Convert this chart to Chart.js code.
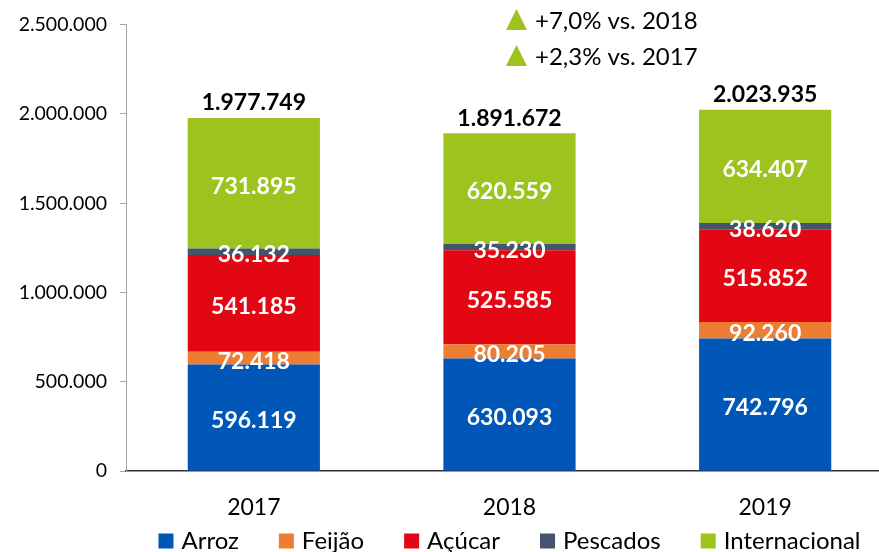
<!DOCTYPE html>
<html>
<head>
<meta charset="utf-8">
<script src="https://cdn.jsdelivr.net/npm/chart.js@4.4.1/dist/chart.umd.min.js"></script>
<style>
  html, body { margin: 0; padding: 0; overflow: hidden; background: #fff; }
  #wrap { width: 893px; height: 552px; position: relative; }
</style>
</head>
<body>
<div id="wrap"><canvas id="chart"></canvas></div>
<script>
// data
const years = ['2017', '2018', '2019'];
const arroz = [596119, 630093, 742796];
const feijao = [72418, 80205, 92260];
const acucar = [541185, 525585, 515852];
const pescados = [36132, 35230, 38620];
const internacional = [731895, 620559, 634407];
const yTicks = [0, 500000, 1000000, 1500000, 2000000, 2500000];
const notes = ['+7,0% vs. 2018', '+2,3% vs. 2017'];

const FONT = 'Lato, "Open Sans", sans-serif';
const green = '#9DC31E';

// 1234567 -> 1.234.567
const fmt = v => String(v).replace(/\B(?=(\d{3})+(?!\d))/g, '.');

// segment values, totals and the little notes at the top
const labelsPlugin = {
  id: 'labels',
  afterDatasetsDraw(chart) {
    const ctx = chart.ctx;
    ctx.save();
    ctx.textAlign = 'center';
    ctx.textBaseline = 'middle';
    ctx.font = 'bold 23px ' + FONT;
    ctx.fillStyle = '#fff';
    chart.data.datasets.forEach((ds, i) => {
      chart.getDatasetMeta(i).data.forEach((bar, j) => {
        ctx.fillText(fmt(ds.data[j]), bar.x, (bar.y + bar.base) / 2 + 3);
      });
    });
    // totals
    const last = chart.data.datasets.length - 1;
    ctx.fillStyle = '#000';
    chart.getDatasetMeta(last).data.forEach((bar, j) => {
      const total = chart.data.datasets.reduce((s, ds) => s + ds.data[j], 0);
      ctx.fillText(fmt(total), bar.x, bar.y - 15);
    });
    ctx.restore();
  },
  afterDraw(chart) {
    const ctx = chart.ctx;
    const area = chart.chartArea;
    ctx.save();
    // notes
    ctx.font = '24px ' + FONT;
    ctx.textAlign = 'left';
    ctx.textBaseline = 'middle';
    notes.forEach((t, i) => {
      const cy = 20 + i * 36;
      const x0 = 506;
      ctx.fillStyle = green;
      ctx.beginPath();
      ctx.moveTo(x0, cy + 10);
      ctx.lineTo(x0 + 21, cy + 10);
      ctx.lineTo(x0 + 10.5, cy - 11);
      ctx.closePath();
      ctx.fill();
      ctx.fillStyle = '#000';
      ctx.fillText(t, x0 + 29, cy + 1);
    });
    // legend
    const box = 15, gap = 8, space = 40;
    const items = chart.data.datasets.map(ds => ({ text: ds.label, color: ds.backgroundColor }));
    let total = 0;
    items.forEach((it, i) => {
      it.w = box + gap + ctx.measureText(it.text).width;
      total += it.w + (i ? space : 0);
    });
    let x = (area.left + area.right) / 2 - total / 2;
    const ly = 541;
    items.forEach(it => {
      ctx.fillStyle = it.color;
      ctx.fillRect(x, ly - box / 2, box, box);
      ctx.fillStyle = '#000';
      ctx.fillText(it.text, x + box + gap, ly);
      x += it.w + space;
    });
    ctx.restore();
  }
};

new Chart(document.getElementById('chart'), {
  type: 'bar',
  data: {
    labels: years,
    datasets: [
      { label: 'Arroz', data: arroz, backgroundColor: '#0057B8' },
      { label: 'Feijão', data: feijao, backgroundColor: '#ED7D31' },
      { label: 'Açúcar', data: acucar, backgroundColor: '#E30613' },
      { label: 'Pescados', data: pescados, backgroundColor: '#44546A' },
      { label: 'Internacional', data: internacional, backgroundColor: green }
    ]
  },
  options: {
    responsive: true,
    maintainAspectRatio: false,
    animation: false,
    datasets: {
      bar: { categoryPercentage: 1, barPercentage: 0.517, borderWidth: 0 }
    },
    layout: { padding: { top: 19, right: 0, bottom: 36, left: 0 } },
    plugins: {
      legend: { display: false },
      tooltip: { enabled: false }
    },
    scales: {
      x: {
        stacked: true,
        grid: { display: false, drawTicks: false },
        border: { display: true, color: '#333', width: 1.5 },
        ticks: { font: { family: FONT, size: 23 }, color: '#000', padding: 23 },
        afterFit: s => { s.height = 45; }
      },
      y: {
        stacked: true,
        min: 0,
        max: yTicks[yTicks.length - 1],
        afterBuildTicks: s => { s.ticks = yTicks.map(v => ({ value: v })); },
        grid: { drawOnChartArea: false, drawTicks: true, tickLength: 6, color: '#A6A6A6' },
        border: { color: '#A6A6A6' },
        ticks: {
          font: { family: FONT, size: 19.5 },
          color: '#000',
          padding: 13,
          callback: v => fmt(v)
        },
        afterFit: s => { s.width = 126; }
      }
    }
  },
  plugins: [labelsPlugin]
});
</script>
</body>
</html>
